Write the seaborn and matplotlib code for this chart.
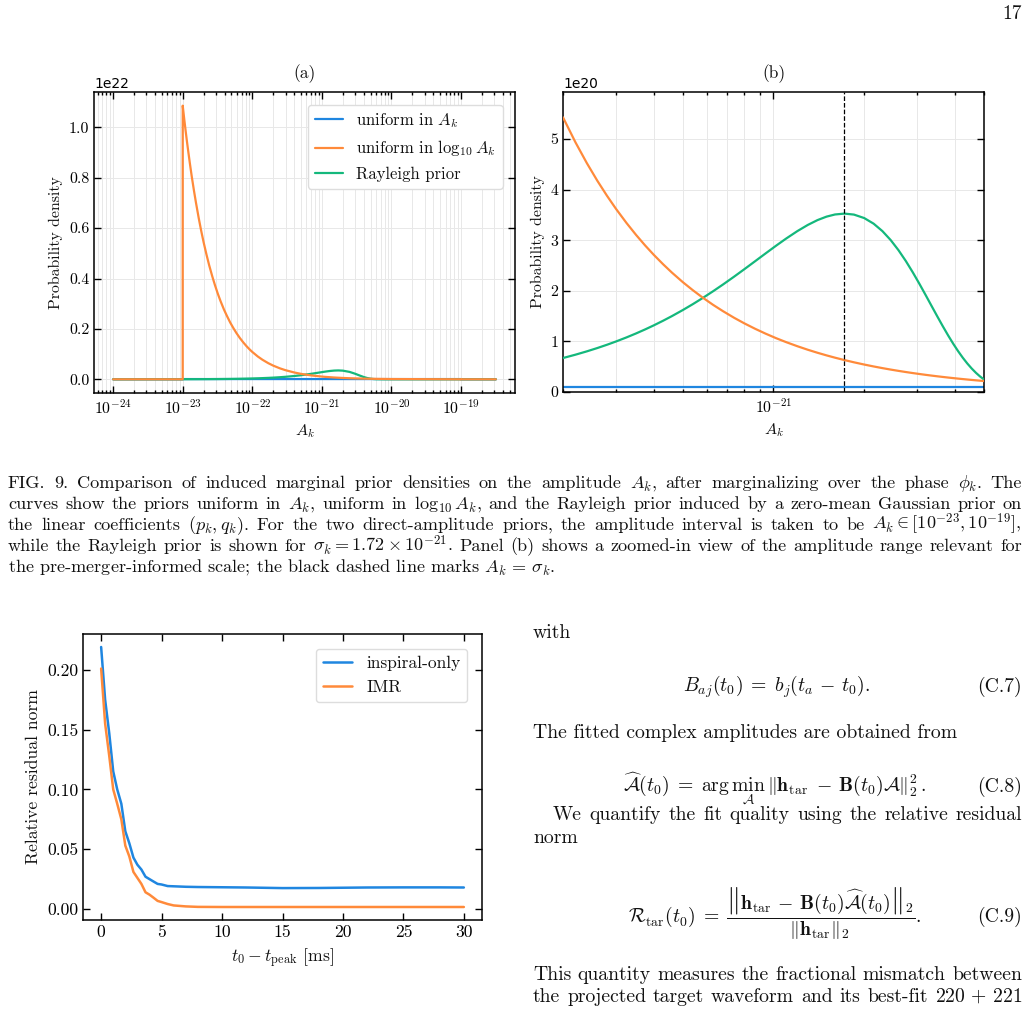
import re
import matplotlib.pyplot as plt
import matplotlib.ticker as mticker
import seaborn as sns

W, H = 1029, 1010

# ---- panel (a): marginal prior densities, full range
# amplitude in units of 1e-23, densities in units of 1e22
amp_a = [0.1, 0.999, 1.0, 1.05, 1.1, 1.15, 1.2, 1.27, 1.35, 1.45, 1.55, 1.7, 1.85, 2.0,
         2.2, 2.4, 2.65, 2.9, 3.2, 3.5, 3.9, 4.3, 4.8, 5.3, 5.9, 6.6, 7.4, 8.3, 9.2, 10,
         12, 14, 17, 20, 25, 30, 40, 50, 70, 100, 115, 130, 150, 172, 200, 250, 300,
         350, 400, 450, 500, 550, 600, 800, 1000, 10000, 10001, 31600]
uniform_a = [0, 0, 0.001, 0.001, 0.001, 0.001, 0.001, 0.001, 0.001, 0.001, 0.001, 0.001,
             0.001, 0.001, 0.001, 0.001, 0.001, 0.001, 0.001, 0.001, 0.001, 0.001, 0.001,
             0.001, 0.001, 0.001, 0.001, 0.001, 0.001, 0.001, 0.001, 0.001, 0.001, 0.001,
             0.001, 0.001, 0.001, 0.001, 0.001, 0.001, 0.001, 0.001, 0.001, 0.001, 0.001,
             0.001, 0.001, 0.001, 0.001, 0.001, 0.001, 0.001, 0.001, 0.001, 0.001, 0.001,
             0, 0]
loguni_a = [0, 0, 1.086, 1.034, 0.987, 0.944, 0.905, 0.855, 0.804, 0.749, 0.701, 0.639,
            0.587, 0.543, 0.494, 0.4525, 0.410, 0.3745, 0.339, 0.310, 0.278, 0.2526,
            0.226, 0.205, 0.184, 0.1645, 0.1468, 0.1308, 0.118, 0.1086, 0.0905, 0.0776,
            0.0639, 0.0543, 0.0434, 0.0362, 0.0272, 0.0217, 0.0155, 0.0109, 0.0094,
            0.0084, 0.0072, 0.0063, 0.0054, 0.0043, 0.0036, 0.0031, 0.0027, 0.0024,
            0.0022, 0.0020, 0.0018, 0.0014, 0.0011, 0.0001, 0, 0]
rayleigh_a = [0.00003, 0.00034, 0.00034, 0.00035, 0.00037, 0.00039, 0.00041, 0.00043,
              0.00046, 0.00049, 0.00052, 0.00057, 0.00063, 0.00068, 0.00074, 0.00081,
              0.0009, 0.00098, 0.00108, 0.00118, 0.00132, 0.00145, 0.00162, 0.00179,
              0.00199, 0.00223, 0.0025, 0.0028, 0.00311, 0.00338, 0.00405, 0.00473,
              0.00574, 0.00671, 0.00836, 0.00999, 0.01316, 0.0162, 0.02178, 0.02855,
              0.03109, 0.03303, 0.03467, 0.03526, 0.03439, 0.0294, 0.02217, 0.01493,
              0.00905, 0.00496, 0.00247, 0.00112, 0.00046, 0.0, 0.0, 0.0, 0.0, 0.0]

# ---- panel (b): zoom; amplitude in units of 1e-22, densities in units of 1e20
amp_b = [2.0, 2.2, 2.4, 2.6, 2.8, 3.0, 3.25, 3.5, 3.75, 4.0, 4.3, 4.6, 5.0, 5.4, 5.8,
         6.3, 6.8, 7.4, 8.0, 8.7, 9.4, 10.2, 11.0, 12.0, 13.0, 14.0, 15.0, 16.0, 17.2,
         18.5, 20.0, 21.5, 23.0, 24.5, 26.0, 27.5, 29.0, 30.5, 32.0, 33.5, 35.0, 36.5,
         38.0, 39.5, 41.0, 42.5, 44.0, 45.5, 47.0, 48.5, 50.0]
loguni_b = [5.429, 4.935, 4.524, 4.176, 3.878, 3.619, 3.341, 3.102, 2.895, 2.714, 2.525,
            2.360, 2.171, 2.011, 1.872, 1.723, 1.597, 1.467, 1.357, 1.248, 1.155, 1.064,
            0.987, 0.905, 0.835, 0.7755, 0.7238, 0.6786, 0.6312, 0.5869, 0.5429, 0.5050,
            0.4720, 0.4431, 0.4176, 0.3948, 0.3744, 0.3560, 0.3393, 0.3241, 0.3102,
            0.2975, 0.2857, 0.2749, 0.2648, 0.2555, 0.2468, 0.2386, 0.2310, 0.2239,
            0.2171]
rayleigh_b = [0.6715, 0.7376, 0.8034, 0.8689, 0.9340, 0.9988, 1.0791, 1.1588, 1.2378,
              1.3160, 1.4088, 1.5003, 1.6202, 1.7375, 1.8522, 1.9914, 2.1257, 2.2802,
              2.4269, 2.5876, 2.7366, 2.8919, 3.0306, 3.1801, 3.3025, 3.3980, 3.4665,
              3.5089, 3.5264, 3.5067, 3.4386, 3.3275, 3.1797, 3.0027, 2.8035, 2.5895,
              2.3662, 2.1404, 1.9165, 1.6993, 1.4927, 1.2987, 1.1192, 0.9557, 0.8089,
              0.6785, 0.5641, 0.4651, 0.3799, 0.3077, 0.2471]
uniform_b_amp = [2.0, 50.0]
uniform_b = [0.1, 0.1]
sigma_k = 1.72e-21

# ---- residual norm vs start time
t_start = [0, 0.33, 0.67, 1.0, 1.33, 1.67, 2.0, 2.33, 2.67, 3.0, 3.33, 3.67, 4.0, 4.33,
           4.67, 5.0, 5.5, 6, 7, 8, 10, 12, 15, 18, 20, 22, 25, 28, 30]
res_inspiral = [0.219, 0.175, 0.147, 0.115, 0.100, 0.088, 0.065, 0.055, 0.043, 0.037,
                0.033, 0.027, 0.025, 0.023, 0.021, 0.0205, 0.0192, 0.0190, 0.0186,
                0.0184, 0.0182, 0.0180, 0.0175, 0.0176, 0.0178, 0.0180, 0.0181, 0.0181,
                0.0180]
res_imr = [0.201, 0.155, 0.128, 0.100, 0.088, 0.075, 0.053, 0.044, 0.031, 0.026,
           0.021, 0.014, 0.012, 0.0095, 0.0068, 0.0058, 0.0042, 0.0030, 0.0022,
           0.0018, 0.0017, 0.0017, 0.0017, 0.0017, 0.0017, 0.0017, 0.0017, 0.0017,
           0.0017]

BLUE, ORANGE, GREEN = "#1f86e0", "#ff8a3a", "#14b87c"

sns.set_theme(style="ticks")
plt.rcParams.update({
    "font.family": ["cmr10", "DejaVu Serif"],
    "mathtext.fontset": "cm",
    "axes.unicode_minus": False,
    "axes.edgecolor": "black",
    "axes.linewidth": 1.1,
    "xtick.color": "black", "ytick.color": "black",
    "xtick.direction": "in", "ytick.direction": "in",
    "xtick.top": True, "ytick.right": True,
    "xtick.major.size": 5, "ytick.major.size": 5,
    "xtick.minor.size": 2.5, "ytick.minor.size": 2.5,
    "xtick.major.width": 1.0, "ytick.major.width": 1.0,
    "text.color": "#111111", "axes.labelcolor": "#111111",
})

fig = plt.figure(figsize=(W / 100, H / 100), dpi=100)


def box(l, t, r, b):
    return [l / W, 1 - b / H, (r - l) / W, (b - t) / H]


def prior_axes(ax):
    ax.set_xscale("log")
    ax.grid(True, which="both", axis="x", color="#e8e8e8", lw=0.7)
    ax.grid(True, which="major", axis="y", color="#e8e8e8", lw=0.7)
    ax.set_axisbelow(True)
    ax.tick_params(labelsize=11.4)
    ax.set_xlabel("$A_k$", fontsize=11.6)
    ax.set_ylabel("Probability density", fontsize=11.4)
    ax.yaxis.get_offset_text().set_family("DejaVu Sans")
    ax.yaxis.get_offset_text().set_fontsize(10)
    ax.xaxis.set_minor_formatter(mticker.NullFormatter())


def curve(ax, x, y, xs, ys, color, **kw):
    sns.lineplot(x=[v * xs for v in x], y=[v * ys for v in y], ax=ax, color=color,
                 lw=1.6, estimator=None, sort=False, **kw)


# (a)
ax1 = fig.add_axes(box(94, 92, 515, 393))
curve(ax1, amp_a, uniform_a, 1e-23, 1e22, BLUE, label=r"uniform in $A_k$", zorder=2)
curve(ax1, amp_a, loguni_a, 1e-23, 1e22, ORANGE, label=r"uniform in $\log_{10} A_k$", zorder=4)
curve(ax1, amp_a, rayleigh_a, 1e-23, 1e22, GREEN, label="Rayleigh prior", zorder=3)
prior_axes(ax1)
ax1.set_xticks([1e-24, 1e-23, 1e-22, 1e-21, 1e-20, 1e-19])
ax1.set_xlim(10 ** -24.275, 10 ** -18.225)
ax1.set_title("(a)", fontsize=12.5, pad=10)
ax1.legend(loc="upper right", fontsize=12, handlelength=1.7, borderaxespad=0.75,
           frameon=True, edgecolor="#dddddd", framealpha=1)

# (b)
ax2 = fig.add_axes(box(563, 92, 984, 392))
curve(ax2, uniform_b_amp, uniform_b, 1e-22, 1e20, BLUE, zorder=2)
curve(ax2, amp_b, loguni_b, 1e-22, 1e20, ORANGE, zorder=4)
curve(ax2, amp_b, rayleigh_b, 1e-22, 1e20, GREEN, zorder=3)
ax2.axvline(sigma_k, color="black", ls="--", lw=0.9, zorder=5)
prior_axes(ax2)
ax2.set_xticks([1e-21])
ax2.set_xlim(2e-22, 5e-21)
ax2.set_ylim(0, 5.93e20)
ax2.set_title("(b)", fontsize=12.5, pad=10)

# residual norm panel
ax3 = fig.add_axes(box(83, 634, 482, 920))
sns.lineplot(x=t_start, y=res_inspiral, ax=ax3, color=BLUE, lw=1.8,
             estimator=None, sort=False, label="inspiral-only")
sns.lineplot(x=t_start, y=res_imr, ax=ax3, color=ORANGE, lw=1.8,
             estimator=None, sort=False, label="IMR")
ax3.tick_params(labelsize=12.7)
ax3.set_xlabel(r"$t_0 - t_{\mathrm{peak}}$ [ms]", fontsize=12.7)
ax3.set_ylabel("Relative residual norm", fontsize=12.7)
ax3.legend(loc="upper right", fontsize=12.5, handlelength=1.7, borderaxespad=0.85,
           frameon=True, edgecolor="#dddddd", framealpha=1)


# ---- page text
def put_line(s, x0, y, size, x1=None, ha="left"):
    if x1 is None:
        fig.text(x0 / W, 1 - y / H, s, fontsize=size, va="baseline", ha=ha)
        return
    words = re.findall(r"(?:\$[^$]*\$|[^\s$])+", s)
    texts = [fig.text(0, 1 - y / H, w, fontsize=size, va="baseline") for w in words]
    r = fig.canvas.get_renderer()
    widths = [t.get_window_extent(r).width for t in texts]
    gap = (x1 - x0 - sum(widths)) / (len(words) - 1)
    x = x0
    for t, w in zip(texts, widths):
        t.set_x(x / W)
        x += w + gap


put_line("17", 1022, 19, 14, ha="right")

cap = 13.1
caption = [
    r"FIG. 9.  Comparison of induced marginal prior densities on the amplitude $A_k$, after marginalizing over the phase $\phi_k$.  The",
    r"curves show the priors uniform in $A_k$, uniform in $\log_{10} A_k$, and the Rayleigh prior induced by a zero-mean Gaussian prior on",
    r"the linear coefficients $(p_k, q_k)$. For the two direct-amplitude priors, the amplitude interval is taken to be $A_k \in [10^{-23}, 10^{-19}]$,",
    r"while the Rayleigh prior is shown for $\sigma_k = 1.72 \times 10^{-21}$. Panel (b) shows a zoomed-in view of the amplitude range relevant for",
]
for i, line in enumerate(caption):
    put_line(line, 8, 488 + 21 * i, cap, x1=1022)
put_line(r"the pre-merger-informed scale; the black dashed line marks $A_k \,=\, \sigma_k$.", 8, 572, cap)

body = 14.2
put_line("with", 533, 638, body)
put_line(r"$B_{aj}(t_0) \;=\; b_j(t_a \,-\, t_0).$", 683, 692, body)
put_line("(C.7)", 1022, 692, body, ha="right")
put_line("The fitted complex amplitudes are obtained from", 533, 738, body)
put_line(r"$\widehat{\mathcal{A}}(t_0) \;=\; \arg\min_{\mathcal{A}}\,\Vert\mathbf{h}_{\mathrm{tar}} \,-\, \mathbf{B}(t_0)\mathcal{A}\Vert_2^2\,.$",
         623, 792, body)
put_line("(C.8)", 1022, 792, body, ha="right")
put_line("We quantify the fit quality using the relative residual", 553, 820, body, x1=1022)
put_line("norm", 533, 843, body)
put_line(r"$\mathcal{R}_{\mathrm{tar}}(t_0) \;=\; \dfrac{\left\Vert\mathbf{h}_{\mathrm{tar}} \,-\, \mathbf{B}(t_0)\widehat{\mathcal{A}}(t_0)\right\Vert_2}{\Vert\mathbf{h}_{\mathrm{tar}}\Vert_2}.$",
         628, 924, body)
put_line("(C.9)", 1022, 922, body, ha="right")
put_line("This quantity measures the fractional mismatch between", 533, 980, body, x1=1022)
put_line(r"the projected target waveform and its best-fit $220 \,+\, 221$", 533, 1002, body, x1=1022)

fig.savefig("out.png", dpi=100)
